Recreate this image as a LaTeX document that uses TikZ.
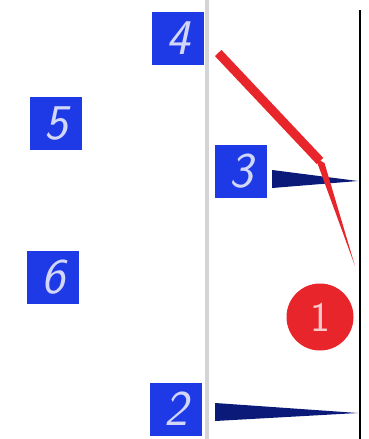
\documentclass[tikz,border=0pt]{standalone}
\usetikzlibrary{positioning}
\definecolor{tagblue}{HTML}{1E3AE6}
\definecolor{wedgeblue}{HTML}{0B1A78}
\definecolor{markred}{HTML}{E8252B}
\definecolor{railgrey}{HTML}{D4D4D8}

\begin{document}
\begin{tikzpicture}[
x=1pt,y=-1pt,
tag/.style={fill=tagblue,minimum width=52pt,minimum height=53pt,inner sep=0pt,
  text=white!80!tagblue,font=\fontsize{50}{50}\selectfont\sffamily\itshape},
redmark/.style={fill=markred,circle,minimum size=67pt,inner sep=0pt,
  text=white!75!markred,font=\fontsize{42}{42}\selectfont\sffamily}]
\useasboundingbox (0,0) rectangle (368,439);
% rails
\draw[railgrey,line width=4pt] (207,0) -- (207,439);
\draw[black,line width=2pt] (360,10) -- (360,439);
% tags
\node[tag] (four) at (178,38) {4};
\node[tag] (five) at (56,123) {5};
\node[tag] (three) at (241,171) {3};
\node[tag] (six) at (53,277) {6};
\node[tag] (two) at (176,409) {2};
\node[redmark] (one) at (320,317) {1};
% wedges
\coordinate (tipthree) at (358,181);
\coordinate (tiptwo) at (358,413);
\fill[wedgeblue] ([xshift=5pt,yshift=1pt]three.east) -- (tipthree) -- ([xshift=5pt,yshift=-17pt]three.east) -- cycle;
\fill[wedgeblue] ([xshift=13pt,yshift=6pt]two.east) -- (tiptwo) -- ([xshift=13pt,yshift=-12pt]two.east) -- cycle;
% red stroke
\coordinate (bend) at (320,161);
\coordinate (tail) at (355,266);
\draw[markred,line width=9pt] ([xshift=14pt,yshift=-15pt]four.east) -- (bend);
\fill[markred] (315.5,158) -- (324.5,163) -- (tail) -- cycle;
\end{tikzpicture}
\end{document}
